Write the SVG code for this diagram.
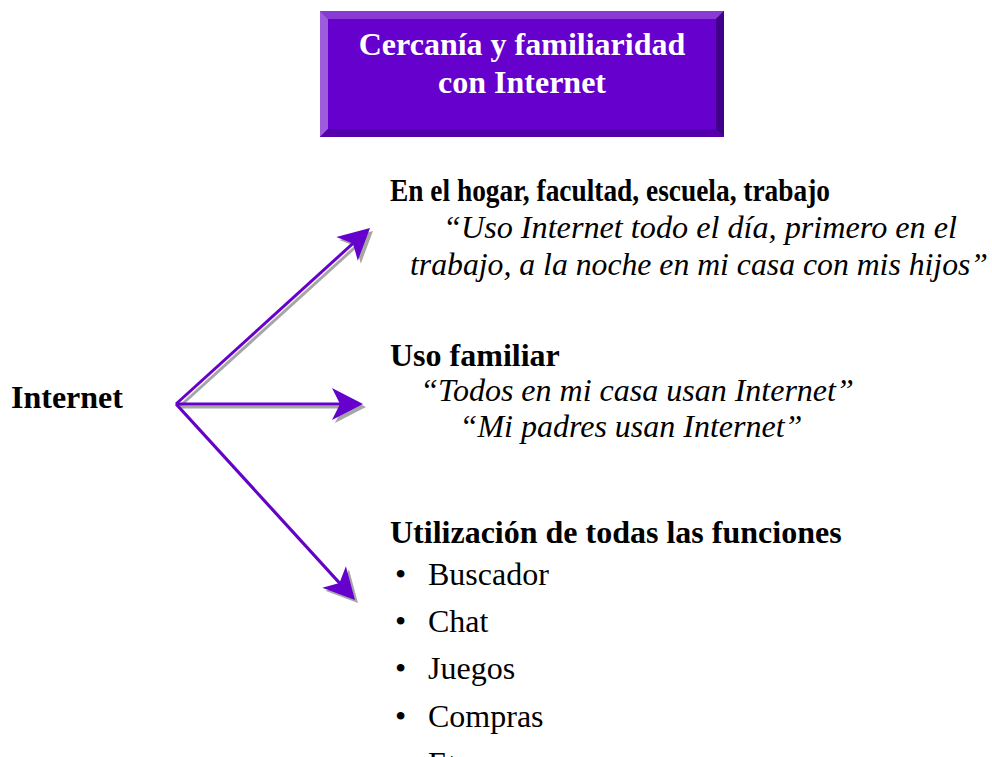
<svg xmlns="http://www.w3.org/2000/svg" width="992" height="757" viewBox="0 0 992 757">
<style>
text{font-family:"Liberation Serif","Times New Roman",serif;fill:#000}
.title{font-size:32px;font-weight:bold;fill:#fff;text-anchor:middle}
.head{font-size:32px;font-weight:bold}
.quote{font-size:32px;font-style:italic}
.item{font-size:32px}
.ln{stroke:#6600cc;stroke-width:3;fill:none}
.sh{stroke:#a6a6a6;stroke-width:3;fill:none}
</style>
<defs>
<marker id="ah" markerUnits="userSpaceOnUse" markerWidth="40" markerHeight="40" viewBox="-15 -20 40 40" refX="0" refY="0" orient="auto" overflow="visible">
<path d="M20,0 L-11,-16 L-3,0 L-11,16 Z" fill="#6600cc"/>
</marker>
<marker id="ahs" markerUnits="userSpaceOnUse" markerWidth="40" markerHeight="40" viewBox="-15 -20 40 40" refX="0" refY="0" orient="auto" overflow="visible">
<path d="M20,0 L-11,-16 L-3,0 L-11,16 Z" fill="#a6a6a6"/>
</marker>
</defs>
<rect width="992" height="757" fill="#fff"/>
<g id="title">
<rect x="320" y="11" width="404" height="126" fill="#6600cc"/>
<polygon points="320,11 724,11 716,19 328,19" fill="#8a3ad4"/>
<polygon points="320,11 328,19 328,129 320,137" fill="#9c5cdc"/>
<polygon points="724,11 724,137 716,129 716,19" fill="#40008a"/>
<polygon points="320,137 328,129 716,129 724,137" fill="#5500aa"/>
<text class="title" x="522" y="55">Cercanía y familiaridad</text>
<text class="title" x="522" y="93">con Internet</text>
</g>
<g id="internet">
<text class="head" x="11" y="408">Internet</text>
</g>
<g id="connectors">
<g transform="translate(3,3)">
<line class="sh" x1="176" y1="404" x2="355.2" y2="241.4" marker-end="url(#ahs)"/>
<line class="sh" x1="176" y1="404" x2="343" y2="404" marker-end="url(#ahs)"/>
<line class="sh" x1="176" y1="404" x2="341.5" y2="585.2" marker-end="url(#ahs)"/>
</g>
<line class="ln" x1="176" y1="404" x2="355.2" y2="241.4" marker-end="url(#ah)"/>
<line class="ln" x1="176" y1="404" x2="343" y2="404" marker-end="url(#ah)"/>
<line class="ln" x1="176" y1="404" x2="341.5" y2="585.2" marker-end="url(#ah)"/>
</g>
<g id="hogar">
<text class="head" x="390" y="201" textLength="440" lengthAdjust="spacingAndGlyphs">En el hogar, facultad, escuela, trabajo</text>
<text class="quote" x="443" y="238" textLength="514" lengthAdjust="spacingAndGlyphs">“Uso Internet todo el día, primero en el</text>
<text class="quote" x="410" y="275" textLength="578" lengthAdjust="spacingAndGlyphs">trabajo, a la noche en mi casa con mis hijos”</text>
</g>
<g id="familiar">
<text class="head" x="390" y="366">Uso familiar</text>
<text class="quote" x="637" y="401" text-anchor="middle">“Todos en mi casa usan Internet”</text>
<text class="quote" x="631" y="437" text-anchor="middle">“Mi padres usan Internet”</text>
</g>
<g id="funciones">
<text class="head" x="390" y="543">Utilización de todas las funciones</text>
<text class="item" x="395" y="585">•</text><text class="item" x="428" y="585">Buscador</text>
<text class="item" x="395" y="632">•</text><text class="item" x="428" y="632">Chat</text>
<text class="item" x="395" y="679">•</text><text class="item" x="428" y="679">Juegos</text>
<text class="item" x="395" y="727">•</text><text class="item" x="428" y="727">Compras</text>
<text class="item" x="395" y="774">•</text><text class="item" x="428" y="774">Etc</text>
</g>
</svg>
